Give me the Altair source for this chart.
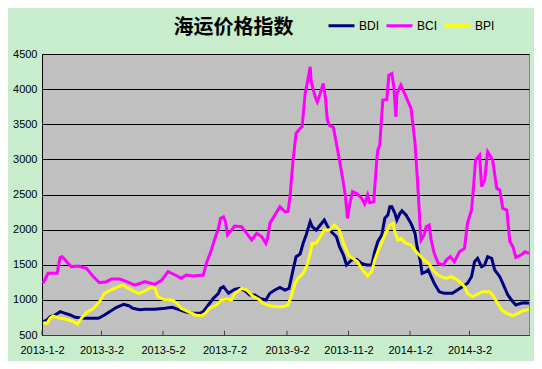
import altair as alt
import pandas as pd

# x values are days since 2013-01-02
bdi_days = [1, 5, 8, 13, 18, 23, 28, 33, 41, 56, 62, 67, 74, 81, 86, 90, 97, 102, 112, 122, 129, 135, 142, 150, 157, 160, 165, 170, 175, 177, 180, 185, 191, 196, 201, 206, 211, 216, 222, 226, 231, 236, 241, 245, 249, 252, 256, 259, 262, 266, 268, 272, 276, 280, 283, 287, 292, 295, 299, 302, 307, 312, 317, 322, 327, 330, 333, 337, 340, 343, 345, 347, 350, 352, 355, 357, 361, 366, 370, 372, 375, 377, 381, 383, 386, 389, 394, 399, 407, 412, 417, 422, 426, 429, 432, 436, 439, 442, 446, 449, 454, 457, 462, 467, 470, 475, 479, 483]
bdi_vals = [690, 713, 760, 785, 832, 808, 785, 752, 737, 737, 785, 832, 894, 937, 917, 880, 860, 865, 865, 880, 894, 865, 832, 808, 808, 832, 927, 1022, 1093, 1164, 1188, 1093, 1150, 1164, 1131, 1069, 1069, 1022, 998, 1093, 1140, 1178, 1140, 1164, 1425, 1615, 1653, 1805, 1923, 2112, 2041, 1994, 2065, 2136, 2051, 1970, 1899, 1757, 1638, 1496, 1567, 1577, 1520, 1496, 1496, 1685, 1828, 1923, 2161, 2208, 2326, 2326, 2232, 2136, 2232, 2269, 2208, 2089, 1947, 1757, 1567, 1378, 1401, 1425, 1330, 1236, 1117, 1093, 1093, 1140, 1188, 1236, 1330, 1543, 1591, 1472, 1496, 1615, 1591, 1425, 1330, 1236, 1069, 974, 927, 951, 960, 951]

bci_days = [1, 6, 15, 18, 20, 29, 36, 44, 51, 57, 64, 69, 77, 84, 92, 102, 112, 119, 125, 132, 138, 143, 150, 160, 163, 168, 171, 175, 177, 180, 182, 184, 188, 191, 198, 203, 208, 213, 218, 222, 224, 226, 231, 236, 241, 244, 246, 249, 252, 256, 258, 261, 263, 266, 267, 271, 273, 276, 279, 281, 283, 285, 289, 292, 295, 299, 301, 303, 305, 308, 313, 317, 320, 323, 325, 329, 332, 333, 335, 338, 342, 344, 347, 349, 351, 352, 356, 361, 366, 370, 373, 375, 376, 379, 381, 384, 386, 389, 393, 398, 401, 405, 409, 414, 419, 422, 426, 428, 430, 434, 436, 439, 442, 445, 447, 451, 454, 457, 461, 464, 467, 470, 475, 479, 483]
bci_vals = [1236, 1378, 1378, 1606, 1615, 1472, 1482, 1449, 1330, 1244, 1259, 1297, 1297, 1259, 1211, 1259, 1221, 1283, 1401, 1354, 1307, 1354, 1340, 1354, 1520, 1710, 1852, 2018, 2160, 2183, 2112, 1923, 1994, 2051, 2041, 1947, 1852, 1947, 1899, 1805, 1899, 2089, 2208, 2326, 2254, 2260, 2468, 2990, 3370, 3441, 3464, 3939, 4081, 4318, 4105, 3892, 3821, 3939, 4081, 3892, 3559, 3488, 3455, 3227, 2990, 2659, 2468, 2161, 2350, 2539, 2506, 2445, 2364, 2492, 2383, 2397, 2990, 3132, 3204, 3844, 3853, 4200, 4223, 4033, 3606, 3939, 4058, 3892, 3726, 3227, 2563, 2041, 1852, 1923, 2041, 2065, 1852, 1662, 1520, 1496, 1567, 1615, 1543, 1685, 1733, 2089, 2279, 2611, 2990, 3061, 2611, 2706, 3109, 3038, 2990, 2587, 2563, 2302, 2279, 1829, 1757, 1606, 1638, 1685, 1662]

bpi_days = [1, 5, 8, 11, 18, 24, 31, 35, 39, 44, 51, 57, 62, 67, 74, 80, 84, 90, 96, 104, 109, 112, 115, 120, 129, 134, 138, 145, 152, 158, 162, 166, 173, 178, 183, 188, 191, 198, 203, 209, 216, 219, 226, 233, 239, 244, 247, 251, 254, 259, 263, 266, 268, 272, 276, 280, 285, 290, 295, 299, 304, 308, 313, 318, 323, 327, 330, 335, 340, 345, 348, 350, 353, 356, 360, 366, 371, 376, 379, 384, 389, 394, 401, 406, 411, 416, 419, 422, 427, 432, 437, 444, 447, 451, 456, 461, 467, 472, 477, 483]
bpi_vals = [675, 666, 737, 770, 737, 723, 690, 656, 737, 817, 880, 974, 1093, 1131, 1178, 1211, 1178, 1131, 1090, 1140, 1188, 1164, 1045, 1007, 998, 951, 880, 832, 785, 775, 808, 880, 927, 998, 1012, 998, 1085, 1164, 1140, 1055, 998, 951, 917, 903, 903, 927, 1045, 1236, 1307, 1378, 1496, 1662, 1805, 1805, 1899, 1994, 1994, 2065, 1994, 1805, 1638, 1591, 1543, 1425, 1340, 1401, 1567, 1757, 1923, 2065, 2089, 1970, 1852, 1876, 1814, 1781, 1686, 1615, 1567, 1510, 1401, 1340, 1307, 1330, 1292, 1236, 1188, 1093, 1045, 1083, 1117, 1117, 1069, 974, 856, 808, 775, 808, 846, 865]

series_names = ["BDI", "BCI", "BPI"]
series_colors = ["#000080", "#FF00FF", "#FFFF00"]
tick_labels = ["2013-1-2", "2013-3-2", "2013-5-2", "2013-7-2", "2013-9-2", "2013-11-2", "2014-1-2", "2014-3-2"]
y_ticks = [500, 1000, 1500, 2000, 2500, 3000, 3500, 4000, 4500]
x_start, x_end = "2013-01-02", "2014-04-30"
title_text = "海运价格指数"

base = pd.Timestamp(x_start)
frames = []
for name, days, vals in zip(series_names, [bdi_days, bci_days, bpi_days], [bdi_vals, bci_vals, bpi_vals]):
    d = base + pd.to_timedelta(days, unit="D")
    frames.append(pd.DataFrame({"date": d.strftime("%Y-%m-%d"), "value": vals, "series": name, "order": range(len(vals))}))
df = pd.concat(frames, ignore_index=True)

def ms(s):
    return int(pd.Timestamp(s).value // 10**6)

tick_ms = [ms(t) for t in tick_labels]
ticks_df = pd.DataFrame({"date": [pd.Timestamp(t).strftime("%Y-%m-%d") for t in tick_labels]})

xscale = alt.Scale(type="utc", domain=[ms(x_start), ms(x_end)])
yscale = alt.Scale(domain=[500, 4500], nice=False, zero=False)

xaxis = alt.Axis(values=tick_ms, labelExpr="utcFormat(datum.value, '%Y-%-m-%-d')", title=None,
                 grid=False, ticks=False, labelFont="Liberation Sans", labelFontSize=11,
                 labelColor="black", labelPadding=9, domainColor="#404040",
                 labelFlush=False, labelOverlap=False)
yaxis = alt.Axis(values=y_ticks, labelExpr="format(datum.value, 'd')", title=None, ticks=False,
                 labelFont="Liberation Sans", labelFontSize=11, labelColor="black", labelPadding=5,
                 domainColor="black", grid=True, gridColor="black", gridWidth=1,
                 labelOverlap=False, labelFlush=False)

lines = alt.Chart(df).mark_line(strokeWidth=3, clip=True).encode(
    x=alt.X("date:T", scale=xscale, axis=xaxis),
    y=alt.Y("value:Q", scale=yscale, axis=yaxis),
    color=alt.Color("series:N", scale=alt.Scale(domain=series_names, range=series_colors),
                    sort=series_names,
                    legend=alt.Legend(title=None, orient="none", legendX=285, legendY=-43,
                                      direction="horizontal", symbolType="stroke", symbolSize=676,
                                      symbolStrokeWidth=3, labelFont="Liberation Sans", labelFontSize=12,
                                      labelColor="black", labelOffset=3, columnPadding=0)),
    order="order:Q",
)

ticks = alt.Chart(ticks_df).mark_rule(color="#404040", strokeWidth=1).encode(
    x=alt.X("date:T", scale=xscale, axis=xaxis),
    y=alt.Y(datum=500, scale=yscale, axis=yaxis),
    y2=alt.datum(560),
)

chart = alt.layer(lines, ticks).properties(
    width=487, height=281,
    autosize=alt.AutoSizeParams(type="none"),
    padding={"left": 34, "top": 46, "right": 5, "bottom": 26},
    background="#C7EDCC",
    title=alt.TitleParams(text=title_text, anchor="middle", dx=-52, offset=-27,
                          font="Noto Sans CJK SC", fontSize=20, fontWeight="bold", color="black"),
).configure_view(fill="#C0C0C0", stroke="#808080", strokeWidth=1)

chart.save("out.html", embed_options={"renderer": "svg", "actions": False})
